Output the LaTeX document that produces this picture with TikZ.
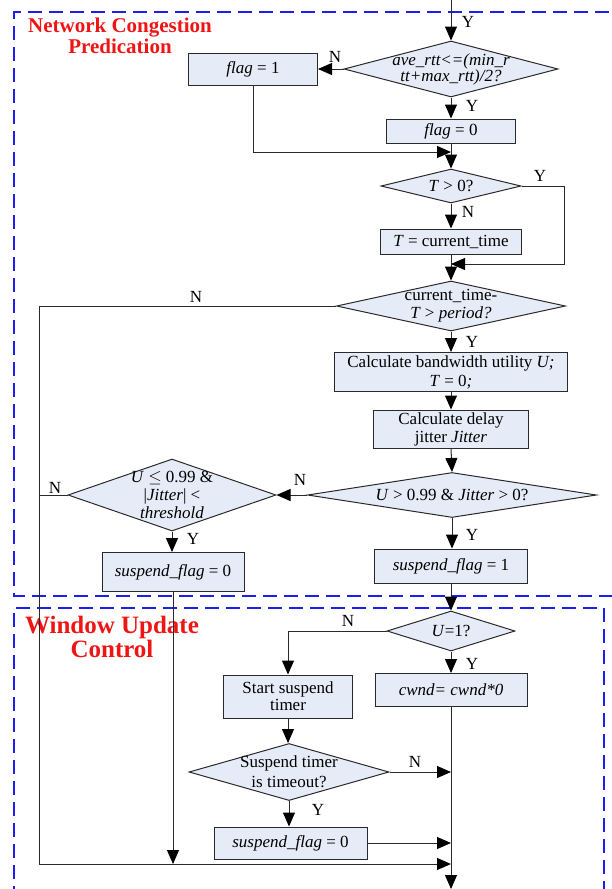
\documentclass[tikz,border=0pt]{standalone}
\usepackage{fontspec}
\setmainfont{Liberation Serif}
\usetikzlibrary{shapes.geometric,arrows.meta}
\definecolor{boxfill}{HTML}{E6ECF7}
\definecolor{lnc}{HTML}{2A2A2A}
\definecolor{dashblue}{HTML}{1E1EF0}
\definecolor{titlered}{HTML}{F01515}
\begin{document}
\begin{tikzpicture}[x=1pt,y=-1pt,
 proc/.style={draw=lnc, fill=boxfill, line width=1pt, inner sep=0pt, align=center, font=\fontsize{17}{18}\selectfont},
 dia/.style={diamond, draw=lnc, fill=boxfill, line width=1pt, inner sep=0pt},
 dtext/.style={align=center, font=\fontsize{17}{18}\selectfont, inner sep=0pt},
 ln/.style={draw=lnc, line width=1pt},
 arr/.style={ln, -{Triangle[length=14pt,width=12pt,color=black]}},
 lab/.style={font=\fontsize{17}{18}\selectfont, inner sep=0pt},
 region/.style={draw=dashblue, line width=1.9pt, dash pattern=on 14pt off 7pt},
 title/.style={text=titlered, font=\bfseries, align=center, inner sep=0pt}]
\useasboundingbox (0,0) rectangle (611,889);
% regions
\draw[region] (630,12) -- (14,12) -- (14,596) -- (630,596);
\draw[region] (14,900) -- (14,608) -- (604,608) -- (604,900);
\node[title, font=\bfseries\fontsize{21}{21}\selectfont] (t1) at (120,36) {Network Congestion\\Predication};
\node[title, font=\bfseries\fontsize{25}{24}\selectfont] (t2) at (112,637) {Window Update\\Control};
% nodes
\coordinate (top) at (451,0);
\node[dia, minimum width=214pt, minimum height=56pt] (d1) at (451,69) {};
\node[dtext, font=\itshape\fontsize{17}{16}\selectfont] (d1t) at (d1) {ave\_rtt<=(min\_r\\tt+max\_rtt)/2?};
\node[proc, minimum width=129pt, minimum height=32pt] (f1) at (253,69) {\textit{flag} = 1};
\node[proc, minimum width=129pt, minimum height=24pt] (f0) at (451,131) {\textit{flag} = 0};
\coordinate (m1) at (451,152);
\node[dia, minimum width=140pt, minimum height=34pt] (d2) at (451,186) {};
\node[dtext] (d2t) at (d2) {\textit{T} > 0?};
\node[proc, minimum width=141pt, minimum height=25pt] (tc) at (451,241.5) {\textit{T} = current\_time};
\coordinate (m2) at (451,264);
\node[dia, minimum width=229pt, minimum height=50pt] (d3) at (451,306) {};
\node[dtext] (d3t) at (d3) {current\_time-\\\textit{T} > \textit{period?}};
\node[proc, minimum width=233pt, minimum height=39pt, font=\fontsize{17}{19}\selectfont] (bw) at (451,372) {Calculate bandwidth utility \textit{U;}\\\textit{T} = 0\textit{;}};
\node[proc, minimum width=155pt, minimum height=38pt] (jt) at (451,429) {Calculate delay\\jitter \textit{Jitter}};
\node[dia, minimum width=289pt, minimum height=45pt] (d4) at (452,495) {};
\node[dtext] (d4t) at (d4) {\textit{U} > 0.99 \& \textit{Jitter} > 0?};
\node[dia, minimum width=208pt, minimum height=72pt] (d5) at (172,495) {};
\node[dtext] (d5t) at (d5) {\textit{U} $\le$ 0.99 \&\\|\textit{Jitter}| <\\\textit{threshold}};
\node[proc, minimum width=142pt, minimum height=39pt] (s0a) at (173,572) {\textit{suspend\_flag} = 0};
\node[proc, minimum width=153pt, minimum height=34pt] (s1) at (451,566) {\textit{suspend\_flag} = 1};
\node[dia, minimum width=128pt, minimum height=40pt] (d6) at (451,631) {};
\node[dtext] (d6t) at (d6) {\textit{U}=1?};
\node[proc, minimum width=129pt, minimum height=43pt, font=\fontsize{17}{17}\selectfont] (st) at (288,696.5) {Start suspend\\timer};
\node[proc, minimum width=152pt, minimum height=33pt] (cw) at (451,690) {\itshape cwnd= cwnd*0};
\node[dia, minimum width=200pt, minimum height=57pt] (d7) at (289,772) {};
\node[dtext, font=\fontsize{17}{20}\selectfont] (d7t) at (d7) {Suspend timer\\is timeout?};
\node[proc, minimum width=153pt, minimum height=32pt] (s0b) at (290.5,843) {\textit{suspend\_flag} = 0};
\coordinate (lx) at (39,306);
\coordinate (lb) at (39,864);
\coordinate (mb) at (451,864);
\coordinate (m7) at (451,772);
\coordinate (m8) at (451,843);
\coordinate (bot) at (451,889);
\coordinate (ry) at (564,186);
% connectors
\draw[arr] (top) -- (d1.north);
\node[lab] (ly1) at (468,22) {Y};
\draw[arr] (d1.west) -- (f1.east);
\node[lab] (ln1) at (335,57) {N};
\draw[arr] (d1.south) -- (f0.north);
\node[lab] (ly2) at (472,106) {Y};
\draw[arr] (f1.south) |- (m1);
\draw[arr] (f0.south) -- (d2.north);
\draw[arr] (d2.east) -- (ry) |- (m2);
\node[lab] (ly3) at (540,176) {Y};
\draw[arr] (d2.south) -- (tc.north);
\node[lab] (ln3) at (468,212) {N};
\draw[arr] (tc.south) -- (d3.north);
\draw[ln] (d3.west) -- (lx) -- (lb);
\node[lab] (ln4) at (196,297) {N};
\draw[arr] (lb) -- (mb);
\draw[arr] (d3.south) -- (bw.north);
\node[lab] (ly4) at (472,342) {Y};
\draw[arr] (bw.south) -- (jt.north);
\draw[arr] (jt.south) -- (d4.north);
\draw[arr] (d4.west) -- (d5.east);
\node[lab] (ln5) at (300,480) {N};
\draw[ln] (d5.west) -- (d5.west -| lx);
\node[lab] (ln6) at (55,488) {N};
\draw[arr] (d5.south) -- (s0a.north -| d5.south);
\node[lab] (ly5) at (193,539) {Y};
\draw[arr] (d4.south) -- (s1.north -| d4.south);
\node[lab] (ly6) at (472,535) {Y};
\draw[arr] (s0a.south) -- (s0a.south |- mb);
\draw[arr] (s1.south) -- (d6.north);
\draw[arr] (d6.west) -| (st.north);
\node[lab] (ln7) at (348,621) {N};
\draw[arr] (d6.south) -- (cw.north);
\node[lab] (ly7) at (472,664) {Y};
\draw[arr] (cw.south) -- (bot);
\draw[arr] (st.south) -- (d7.north -| st.south);
\node[lab] (ln8) at (415,762) {N};
\draw[arr] (d7.east) -- (m7);
\draw[arr] (d7.south) -- (s0b.north -| d7.south);
\node[lab] (ly8) at (318,810) {Y};
\draw[arr] (s0b.east) -- (m8);
\end{tikzpicture}
\end{document}
